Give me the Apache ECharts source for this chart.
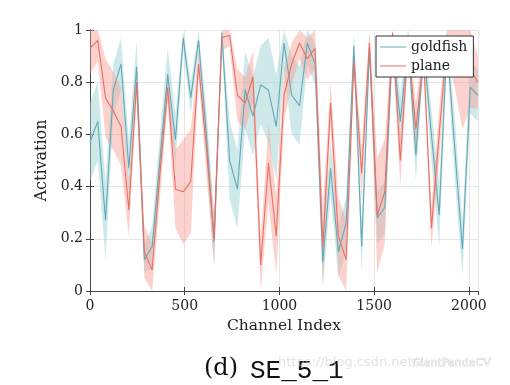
<!DOCTYPE html>
<html><head><meta charset="utf-8">
<script src="https://cdn.jsdelivr.net/npm/echarts@6/dist/echarts.min.js"></script>
<style>html,body{margin:0;padding:0;background:#fff}#c{width:510px;height:385px}</style>
</head><body><div id="c"></div>
<script>
const channels = [0, 41, 82, 123, 164, 205, 246, 287, 328, 369, 410, 451, 492, 532, 573, 614, 655, 696, 737, 778,
  819, 860, 901, 942, 983, 1024, 1065, 1106, 1147, 1188, 1229, 1270, 1311, 1352, 1393, 1434, 1475, 1516, 1556, 1597,
  1638, 1679, 1720, 1761, 1802, 1843, 1884, 1925, 1966, 2007, 2047];
const goldfish = [0.57, 0.65, 0.27, 0.77, 0.87, 0.47, 0.86, 0.12, 0.17, 0.50, 0.83, 0.58, 0.97, 0.74, 0.96, 0.60, 0.19, 0.99, 0.50, 0.39,
  0.77, 0.67, 0.79, 0.77, 0.63, 0.95, 0.75, 0.71, 0.95, 0.87, 0.11, 0.47, 0.15, 0.26, 0.94, 0.17, 0.93, 0.28, 0.32, 0.95,
  0.65, 0.95, 0.52, 0.93, 0.60, 0.29, 0.95, 0.55, 0.16, 0.78, 0.75];
const goldfishSpread = [0.15, 0.15, 0.15, 0.10, 0.10, 0.10, 0.10, 0.05, 0.08, 0.10, 0.10, 0.10, 0.05, 0.06, 0.05, 0.10, 0.10, 0.05, 0.15, 0.15,
  0.15, 0.15, 0.15, 0.20, 0.20, 0.10, 0.15, 0.15, 0.08, 0.08, 0.10, 0.10, 0.10, 0.10, 0.05, 0.10, 0.05, 0.10, 0.10, 0.05,
  0.10, 0.05, 0.10, 0.05, 0.10, 0.12, 0.05, 0.12, 0.10, 0.10, 0.10];
const plane = [0.93, 0.96, 0.74, 0.69, 0.63, 0.31, 0.80, 0.15, 0.08, 0.45, 0.78, 0.39, 0.38, 0.42, 0.87, 0.55, 0.20, 0.97, 0.98, 0.75,
  0.72, 0.82, 0.10, 0.49, 0.21, 0.75, 0.87, 0.95, 0.89, 0.93, 0.17, 0.72, 0.21, 0.12, 0.88, 0.45, 0.95, 0.29, 0.38, 0.99,
  0.50, 0.95, 0.62, 0.90, 0.24, 0.60, 0.95, 0.90, 0.82, 0.85, 0.80];
const planeSpread = [0.10, 0.08, 0.15, 0.15, 0.15, 0.10, 0.05, 0.10, 0.10, 0.10, 0.05, 0.15, 0.20, 0.20, 0.05, 0.10, 0.10, 0.05, 0.04, 0.10,
  0.10, 0.10, 0.10, 0.15, 0.15, 0.10, 0.08, 0.06, 0.08, 0.08, 0.15, 0.08, 0.15, 0.15, 0.05, 0.10, 0.05, 0.22, 0.20, 0.05,
  0.10, 0.05, 0.10, 0.05, 0.08, 0.10, 0.05, 0.12, 0.20, 0.15, 0.10];
const xTicks = [0, 500, 1000, 1500, 2000];
const yTicks = [0, 0.2, 0.4, 0.6, 0.8, 1];

const serif = 'DejaVu Serif';
const chart = echarts.init(document.getElementById('c'));

function bandSeries(name, vals, spread, fill, op) {
  return {
    type: 'custom', name: name + '-band', z: 1, silent: true,
    data: channels.map((c, i) => [c, vals[i]]),
    renderItem: function (params, api) {
      if (params.dataIndex !== 0) return null;
      const up = [], lo = [];
      for (let i = 0; i < channels.length; i++) {
        up.push(api.coord([channels[i], Math.min(1, vals[i] + spread[i])]));
        lo.push(api.coord([channels[i], Math.max(0, vals[i] - spread[i])]));
      }
      return { type: 'polygon', shape: { points: up.concat(lo.reverse()) }, style: { fill: fill, opacity: op } };
    }
  };
}
function lineSeries(name, vals, color) {
  return {
    type: 'line', name: name, z: 3, symbol: 'none', clip: true,
    data: channels.map((c, i) => [c, vals[i]]),
    lineStyle: { color: color, width: 1.1 }, itemStyle: { color: color }
  };
}

chart.setOption({
  animation: false,
  grid: { left: 90, right: 32, top: 30, bottom: 94 },
  legend: {
    orient: 'vertical', left: 376, top: 36, data: ['goldfish', 'plane'],
    icon: 'rect', itemWidth: 26, itemHeight: 1, itemGap: 5,
    backgroundColor: '#fff', borderColor: '#333', borderWidth: 1, padding: [4, 6, 4, 4],
    textStyle: { fontFamily: serif, fontSize: 14, color: '#222' }
  },
  xAxis: [{
    type: 'value', min: 0, max: 2048, interval: 500,
    name: 'Channel Index', nameLocation: 'middle', nameGap: 24,
    nameTextStyle: { fontFamily: serif, fontSize: 15.5, color: '#222' },
    axisLine: { lineStyle: { color: '#444', width: 1 } },
    axisTick: { inside: true, length: 4, lineStyle: { color: '#444' } },
    axisLabel: { fontFamily: serif, fontSize: 14, color: '#222', margin: 8, showMaxLabel: false,
      formatter: v => xTicks.includes(v) ? String(v) : '' },
    splitLine: { show: true, lineStyle: { color: '#e6e6e6', width: 1 } }
  }, {
    type: 'value', min: 0, max: 2048, interval: 500, position: 'top',
    axisLine: { show: true, lineStyle: { color: '#444' } },
    axisTick: { show: true, inside: true, length: 4, lineStyle: { color: '#444' } },
    axisLabel: { show: false }, splitLine: { show: false }
  }],
  yAxis: [{
    type: 'value', min: 0, max: 1, interval: 0.2,
    name: 'Activation', nameLocation: 'middle', nameGap: 35, nameRotate: 90,
    nameTextStyle: { fontFamily: serif, fontSize: 16, color: '#222' },
    axisLine: { show: true, lineStyle: { color: '#444', width: 1 } },
    axisTick: { show: true, inside: true, length: 4, lineStyle: { color: '#444' } },
    axisLabel: { fontFamily: serif, fontSize: 14, color: '#222', margin: 7,
      formatter: v => { const t = yTicks.find(y => Math.abs(y - v) < 1e-9); return t === undefined ? '' : String(t); } },
    splitLine: { show: true, lineStyle: { color: '#e6e6e6', width: 1 } }
  }, {
    type: 'value', min: 0, max: 1, interval: 0.2, position: 'right',
    axisLine: { show: true, lineStyle: { color: '#444' } },
    axisTick: { show: true, inside: true, length: 4, lineStyle: { color: '#444' } },
    axisLabel: { show: false }, splitLine: { show: false }
  }],
  series: [
    bandSeries('goldfish', goldfish, goldfishSpread, '#9fd3d6', 0.5),
    bandSeries('plane', plane, planeSpread, '#f99b92', 0.45),
    lineSeries('goldfish', goldfish, '#62a9b8'),
    lineSeries('plane', plane, '#ea6f63')
  ],
  graphic: [
    { type: 'text', left: 204, top: 357, style: { text: '(d)', fontFamily: serif, fontSize: 24, fill: '#111' } },
    { type: 'text', left: 250, top: 358, style: { text: 'SE_5_1', fontFamily: 'Liberation Mono', fontSize: 26, fill: '#111' } },
    { type: 'text', left: 278, top: 356, style: { text: 'https://blog.csdn.net/...', fontFamily: 'DejaVu Sans', fontSize: 13, fill: 'rgba(200,200,200,0.5)' } },
    { type: 'text', left: 412, top: 357, style: { text: 'GiantPandaCV', fontFamily: 'DejaVu Sans', fontSize: 11, fill: '#f4f4f4', stroke: '#bbb', lineWidth: 0.6 } }
  ]
});
</script></body></html>
